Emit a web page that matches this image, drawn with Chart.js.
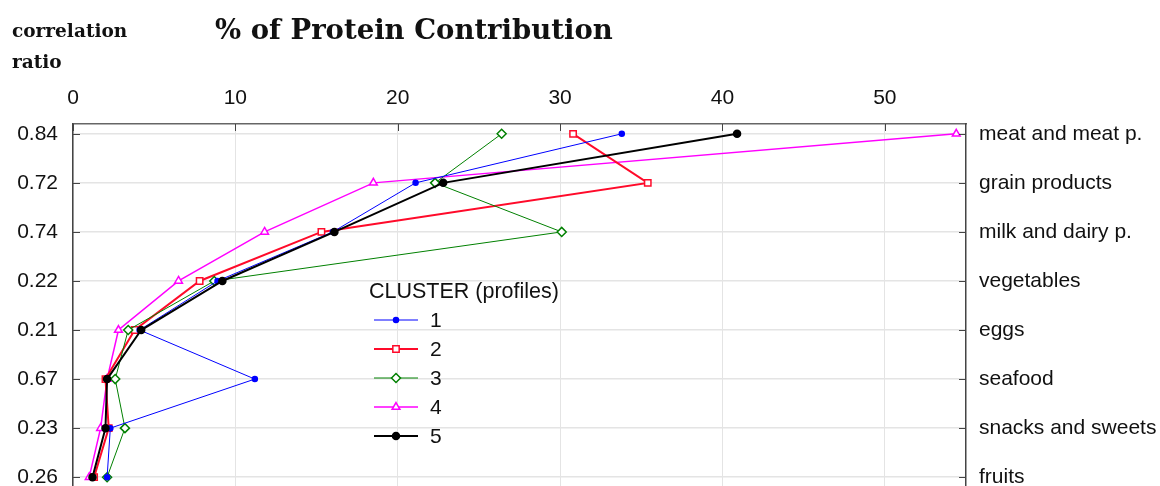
<!DOCTYPE html>
<html>
<head>
<meta charset="utf-8">
<script src="https://cdn.jsdelivr.net/npm/chart.js@4/dist/chart.umd.min.js"></script>
<style>
  html, body { margin: 0; padding: 0; background: #fff; overflow: hidden; }
  #wrap { position: relative; width: 1160px; height: 486px; overflow: hidden; }
  #chart { position: absolute; left: 0; top: 0; }
  .title { position: absolute; font-family: "DejaVu Serif", serif; font-weight: bold; color: #111; white-space: nowrap; }
  #mainTitle { left: 215px; top: 13px; font-size: 27.5px; }
  #yTitle { left: 12px; top: 15px; font-size: 18.5px; line-height: 31px; }
</style>
</head>
<body>
<div id="wrap">
  <canvas id="chart" width="1160" height="520"></canvas>
  <div id="mainTitle" class="title">% of Protein Contribution</div>
  <div id="yTitle" class="title">correlation<br>ratio</div>
</div>
<script>
// food groups, top to bottom
const categories = ["meat and meat p.", "grain products", "milk and dairy p.", "vegetables",
                    "eggs", "seafood", "snacks and sweets", "fruits"];
const corrRatios = ["0.84", "0.72", "0.74", "0.22", "0.21", "0.67", "0.23", "0.26"];
const xTicks     = [0, 10, 20, 30, 40, 50];

// % of protein contribution per cluster, same order as categories
const cluster1 = [33.8, 21.1, 16.0, 8.9, 4.1, 11.2, 2.3, 2.1];
const cluster2 = [30.8, 35.4, 15.3, 7.8, 3.8, 2.0, 2.2, 1.3];
const cluster3 = [26.4, 22.3, 30.1, 8.7, 3.4, 2.6, 3.2, 2.1];
const cluster4 = [54.4, 18.5, 11.8, 6.5, 2.8, 2.1, 1.7, 1.0];
const cluster5 = [40.9, 22.8, 16.1, 9.2, 4.2, 2.1, 2.0, 1.2];

const rows = categories.map((c, i) => i);
const toPoints = vals => vals.map((v, i) => ({ x: v, y: i }));

const TICK_FONT = { family: "'Liberation Sans', Arial, sans-serif", size: 21 };

// short inward tick marks on the frame
const innerTicks = {
  id: "innerTicks",
  afterDraw(chart) {
    const { ctx, chartArea: a, scales } = chart;
    ctx.save();
    ctx.strokeStyle = "#444";
    ctx.lineWidth = 1;
    ctx.beginPath();
    rows.forEach(r => {
      const y = Math.round(scales.y.getPixelForValue(r)) + 0.5;
      ctx.moveTo(a.left, y); ctx.lineTo(a.left + 7, y);
      ctx.moveTo(a.right, y); ctx.lineTo(a.right - 7, y);
    });
    xTicks.forEach(t => {
      const x = Math.round(scales.x.getPixelForValue(t)) + 0.5;
      ctx.moveTo(x, a.top); ctx.lineTo(x, a.top + 7);
    });
    ctx.stroke();
    ctx.restore();
  }
};

// legend box drawn inside the plot
const clusterLegend = {
  id: "clusterLegend",
  afterDraw(chart) {
    const ctx = chart.ctx;
    const x0 = 374, x1 = 418, textX = 430, titleY = 292, firstY = 320, step = 29;
    ctx.save();
    ctx.fillStyle = "#111";
    ctx.font = "21.5px 'Liberation Sans', Arial, sans-serif";
    ctx.textBaseline = "middle";
    ctx.fillText("CLUSTER (profiles)", 369, titleY);
    chart.data.datasets.forEach((ds, i) => {
      const y = firstY + i * step;
      ctx.strokeStyle = ds.borderColor;
      ctx.lineWidth = ds.borderWidth;
      ctx.beginPath(); ctx.moveTo(x0, y); ctx.lineTo(x1, y); ctx.stroke();
      ctx.fillStyle = ds.pointBackgroundColor;
      ctx.lineWidth = ds.pointBorderWidth;
      Chart.helpers.drawPoint(ctx, {
        pointStyle: ds.pointStyle, radius: ds.pointRadius, rotation: 0,
        borderWidth: ds.pointBorderWidth
      }, (x0 + x1) / 2, y);
      ctx.fillStyle = "#111";
      ctx.font = "21px 'Liberation Sans', Arial, sans-serif";
      ctx.fillText(ds.label, textX, y + 1);
    });
    ctx.restore();
  }
};

function series(label, data, color, lw, style, radius, fill, order) {
  return {
    label, data: toPoints(data), showLine: true,
    borderColor: color, borderWidth: lw,
    pointStyle: style, pointRadius: radius, pointHoverRadius: radius,
    pointBorderColor: color, pointBackgroundColor: fill, pointBorderWidth: 1.5,
    order
  };
}

new Chart(document.getElementById("chart"), {
  type: "scatter",
  data: {
    datasets: [
      series("1", cluster1, "#0000ff", 1,   "circle",   2.5, "#0000ff", 2),
      series("2", cluster2, "#ff0a2a", 2,   "rect",     4.5, "#ffffff", 4),
      series("3", cluster3, "#008000", 1,   "rectRot",  4.5, "#ffffff", 3),
      series("4", cluster4, "#ff00ff", 1.5, "triangle", 4.5, "#ffffff", 5),
      series("5", cluster5, "#000000", 2,   "circle",   3.5, "#000000", 1)
    ]
  },
  options: {
    responsive: false,
    animation: false,
    devicePixelRatio: 1,
    layout: { padding: { left: 0, right: 0, top: 0, bottom: 33 } },
    plugins: { legend: { display: false }, tooltip: { enabled: false } },
    scales: {
      x: {
        type: "linear", position: "top", min: 0, max: 55,
        afterFit: s => { s.height = 124; },
        afterBuildTicks: s => { s.ticks = xTicks.map(v => ({ value: v })); },
        grid: { color: "#e4e4e4", drawTicks: false },
        border: { color: "#666", width: 1.5 },
        ticks: { font: TICK_FONT, color: "#111", padding: 13, maxRotation: 0 }
      },
      y: {
        type: "linear", position: "left", reverse: true, min: -0.2, max: 7.2,
        afterFit: s => { s.width = 73; },
        afterBuildTicks: s => { s.ticks = rows.map(v => ({ value: v })); },
        grid: { color: "#e4e4e4", lineWidth: 1.5, drawTicks: false },
        border: { color: "#444", width: 1.5 },
        ticks: { font: TICK_FONT, color: "#111", padding: 15, callback: v => corrRatios[v] }
      },
      y2: {
        type: "linear", position: "right", reverse: true, min: -0.2, max: 7.2,
        afterFit: s => { s.width = 194; },
        afterBuildTicks: s => { s.ticks = rows.map(v => ({ value: v })); },
        grid: { drawOnChartArea: false, drawTicks: false },
        border: { color: "#444", width: 1.5 },
        ticks: { font: TICK_FONT, color: "#111", padding: 13, callback: v => categories[v] }
      }
    }
  },
  plugins: [innerTicks, clusterLegend]
});
</script>
</body>
</html>
